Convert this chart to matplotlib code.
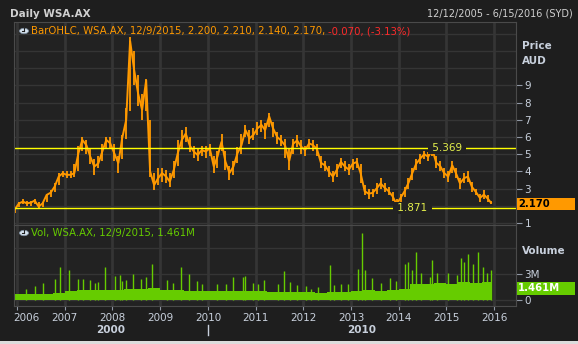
import matplotlib
matplotlib.use('Agg')
import matplotlib.pyplot as plt
import matplotlib.dates as mdates
import matplotlib.transforms as mtrans
import pandas as pd
from matplotlib.patches import Circle, Rectangle
from matplotlib.lines import Line2D

# monthly closes, Dec 2005 .. Dec 2015 (AUD)
price = [1.76,
         2.14, 2.24, 2.14, 2.18, 2.30, 1.95, 2.14, 2.63, 2.76, 3.11, 3.69, 3.89,
         3.80, 3.80, 3.90, 5.05, 5.83, 5.53, 4.86, 4.28, 4.47, 5.15, 5.83, 5.63,
         5.05, 4.47, 5.92, 6.99, 11.60, 9.90, 8.54, 7.57, 9.31, 4.00, 3.20, 3.60,
         3.90, 3.70, 3.40, 4.10, 5.05, 5.83, 6.20, 5.50, 5.15, 4.95, 5.24, 5.15,
         5.34, 4.28, 4.86, 5.73, 4.57, 3.90, 4.28, 5.05, 5.53, 6.41, 5.92, 6.12,
         6.50, 6.70, 6.40, 7.20, 6.50, 6.00, 5.80, 5.50, 4.60, 5.60, 5.80, 5.45,
         5.24, 5.63, 5.53, 5.30, 4.50, 4.35, 3.98, 3.70, 4.10, 4.55, 4.28, 4.10,
         4.45, 4.55, 3.90, 2.85, 2.70, 2.75, 3.00, 3.30, 3.05, 2.85, 2.55, 2.10,
         2.45, 2.85, 3.30, 3.90, 4.45, 4.75, 5.00, 4.85, 5.30, 4.50, 4.30, 3.90,
         3.70, 4.35, 3.90, 3.30, 3.60, 3.70, 3.10, 2.80, 2.45, 2.65, 2.40, 2.17]

# monthly high / low
price_hi = [1.90,
            2.20, 2.40, 2.30, 2.30, 2.40, 2.20, 2.20, 2.70, 2.90, 3.30, 3.90, 4.00,
            4.00, 4.00, 4.40, 5.50, 6.00, 5.80, 5.30, 4.70, 4.90, 5.60, 6.00, 6.00,
            5.60, 4.90, 6.10, 7.70, 11.80, 11.00, 9.60, 8.50, 9.40, 7.00, 3.90, 4.20,
            4.20, 4.10, 3.90, 4.60, 5.80, 6.40, 6.60, 6.00, 5.50, 5.30, 5.50, 5.50,
            5.60, 4.90, 5.20, 6.20, 5.20, 4.30, 4.60, 5.40, 6.20, 6.70, 6.40, 6.50,
            6.90, 7.00, 6.80, 7.40, 6.90, 6.30, 6.10, 5.90, 5.30, 5.90, 6.10, 5.80,
            5.50, 5.90, 5.80, 5.60, 4.90, 4.60, 4.30, 4.00, 4.40, 4.80, 4.60, 4.40,
            4.70, 4.80, 4.40, 3.20, 3.00, 3.00, 3.30, 3.60, 3.30, 3.10, 2.80, 2.40,
            2.70, 3.10, 3.60, 4.20, 4.70, 5.00, 5.20, 5.10, 5.37, 4.90, 4.60, 4.20,
            4.00, 4.60, 4.20, 3.60, 3.90, 4.00, 3.40, 3.00, 2.70, 2.90, 2.60, 2.30]
price_lo = [1.60,
            1.90, 2.10, 2.00, 2.00, 2.10, 1.80, 1.90, 2.20, 2.50, 2.80, 3.20, 3.70,
            3.60, 3.60, 3.70, 4.00, 5.20, 5.00, 4.40, 3.80, 4.20, 4.60, 5.30, 5.30,
            4.60, 3.90, 4.70, 5.90, 7.50, 9.00, 7.80, 7.00, 7.50, 3.70, 2.90, 3.20,
            3.40, 3.30, 3.10, 3.60, 4.30, 5.30, 5.70, 5.10, 4.80, 4.60, 4.90, 4.80,
            4.90, 3.90, 4.20, 5.20, 4.10, 3.50, 3.80, 4.50, 5.00, 6.00, 5.60, 5.80,
            6.10, 6.30, 5.90, 6.60, 6.00, 5.60, 5.50, 4.80, 4.10, 5.00, 5.40, 5.00,
            4.90, 5.30, 5.20, 4.90, 4.20, 4.00, 3.70, 3.40, 3.70, 4.20, 4.00, 3.80,
            4.10, 4.20, 3.30, 2.60, 2.40, 2.50, 2.70, 3.00, 2.80, 2.60, 2.30, 1.87,
            2.20, 2.50, 3.00, 3.50, 4.10, 4.40, 4.70, 4.60, 4.90, 4.20, 4.00, 3.60,
            3.40, 3.90, 3.60, 3.00, 3.30, 3.40, 2.80, 2.60, 2.20, 2.40, 2.20, 2.10]

# quarterly typical daily volume (millions), Q1 2006 .. Q4 2015
vol_base = [0.70, 0.70, 0.70, 0.80,
            1.00, 1.10, 1.10, 1.10,
            1.20, 1.30, 1.30, 1.40,
            1.20, 1.10, 1.00, 1.00,
            1.00, 1.00, 1.00, 1.00,
            1.00, 0.90, 0.90, 0.90,
            0.90, 0.80, 0.90, 0.90,
            1.00, 1.20, 1.00, 1.10,
            1.30, 1.80, 1.90, 2.00,
            1.90, 2.10, 2.00, 2.10]

# volume spikes (millions)
spike_dates = ['2006-03-10', '2006-05-20', '2006-07-15', '2006-10-20', '2006-11-25',
               '2007-02-01', '2007-04-10', '2007-05-20', '2007-07-15', '2007-08-20',
               '2007-09-10', '2007-11-05', '2008-01-20', '2008-02-25', '2008-03-15',
               '2008-04-15', '2008-06-05', '2008-08-10', '2008-09-15', '2008-10-30',
               '2009-02-20', '2009-04-10', '2009-06-05', '2009-08-10', '2009-10-10',
               '2009-11-15', '2010-03-15', '2010-05-20', '2010-07-10', '2010-09-25',
               '2010-10-15', '2010-12-10', '2011-01-20', '2011-03-10', '2011-06-25',
               '2011-08-10', '2011-09-25', '2011-11-15', '2012-01-20', '2012-03-01',
               '2012-04-20', '2012-07-20', '2012-08-25', '2012-10-15', '2012-12-10',
               '2013-02-20', '2013-03-25', '2013-04-20', '2013-06-10', '2013-08-15',
               '2013-10-25', '2013-12-10', '2014-02-20', '2014-03-10', '2014-04-10',
               '2014-05-10', '2014-06-20', '2014-08-25', '2014-09-15', '2014-10-22',
               '2015-01-10', '2015-03-20', '2015-04-25', '2015-05-15', '2015-06-15',
               '2015-07-25', '2015-09-01', '2015-10-10', '2015-11-05', '2015-12-05']
spike_vals = [1.3, 1.6, 2.0, 2.4, 3.8,
              3.5, 2.4, 2.4, 2.3, 2.0,
              2.1, 3.8, 2.8, 2.9, 2.2,
              2.3, 3.0, 2.4, 2.6, 4.2,
              2.3, 2.0, 3.8, 3.0, 2.2,
              1.9, 1.9, 1.8, 2.7, 2.6,
              2.8, 2.0, 1.9, 2.3, 1.9,
              3.3, 2.1, 1.7, 1.6, 1.3,
              1.5, 4.0, 1.7, 1.9, 1.8,
              3.6, 7.7, 3.5, 2.5, 2.0,
              2.5, 2.2, 4.2, 4.4, 3.5,
              5.5, 3.1, 2.7, 4.6, 3.1,
              3.1, 2.9, 4.8, 4.4, 5.3,
              4.2, 5.5, 3.8, 3.1, 3.5]

hi_price, lo_price = 5.369, 1.871
last_price, last_vol = 2.170, 1.461
years = list(range(2006, 2017))

BG = '#1e1e1e'
PANEL = '#222222'
GRID = '#353535'
TXT = '#c8d0dc'
ORANGE = '#ff9900'
GREEN = '#66cc00'
YEL = '#ffff00'

W, H = 578, 344
def fx(px): return px / W
def fy(py): return 1 - py / H

price_dates = pd.date_range('2005-12-01', '2015-12-01', freq='MS') + pd.Timedelta(days=14)
price_dates = price_dates.tolist()
price_dates[0] = pd.Timestamp('2005-12-12')
price_dates[-1] = pd.Timestamp('2015-12-09')

vb_dates = [pd.Timestamp('2005-12-12')] + pd.date_range('2006-04-01', periods=39, freq='QS').tolist() + [pd.Timestamp('2015-12-09')]
vb_vals = vol_base + [vol_base[-1]]

fig = plt.figure(figsize=(5.78, 3.44), dpi=100, facecolor=BG)
ax = fig.add_axes([fx(14), fy(225), fx(516) - fx(14), fy(22) - fy(225)], facecolor=PANEL)
axv = fig.add_axes([fx(14), fy(306), fx(516) - fx(14), fy(225) - fy(306)], facecolor=PANEL, sharex=ax)

year_ticks = [pd.Timestamp(f'{y}-01-01') for y in years]
for a in (ax, axv):
    a.set_axisbelow(True)
    for s in a.spines.values():
        s.set_color('#4a4a4a')
    a.yaxis.tick_right()
    a.set_xticks(year_ticks)
    a.grid(axis='x', color=GRID, lw=2)
    a.grid(axis='y', which='both', color=GRID, lw=1)
    a.tick_params(axis='y', which='major', colors='#9098a4', labelcolor=TXT,
                  labelsize=7.5, length=4, pad=2)
    a.tick_params(axis='y', which='minor', length=0)

ax.set_xlim(pd.Timestamp('2005-12-08'), pd.Timestamp('2016-06-17'))

# price panel: monthly ranges plus closes
ax.vlines(price_dates, price_lo, price_hi, color=ORANGE, lw=1.3)
ax.plot(price_dates, price, color=ORANGE, lw=1.4, solid_joinstyle='miter')
ax.axhline(hi_price, color=YEL, lw=1)
ax.axhline(lo_price, color=YEL, lw=1)
lbl = dict(color='#e4f04c', fontsize=7.5, ha='center', va='center',
           bbox=dict(boxstyle='square,pad=0.1', fc=PANEL, ec='none'))
ax.text(pd.Timestamp('2015-01-05'), hi_price, f' {hi_price:.3f} ', **lbl)
ax.text(pd.Timestamp('2014-04-15'), lo_price, f' {lo_price:.3f} ', **lbl)
ax.set_ylim(0.88, 12.69)
ax.set_yticks(range(1, 10))
ax.set_yticklabels(['1', ''] + [str(v) for v in range(3, 10)])
ax.set_yticks([10, 11, 12], minor=True)
ax.tick_params(axis='x', length=0, labelbottom=False)

# volume panel
axv.fill_between(vb_dates, 0, vb_vals, step='post', color=GREEN, lw=0)
axv.vlines(pd.to_datetime(spike_dates), 0, spike_vals, color=GREEN, lw=1)
axv.set_ylim(-0.69, 8.65)
axv.set_yticks([0, 3])
axv.set_yticklabels(['0', '3M'])
axv.set_yticks([6], minor=True)
axv.tick_params(axis='x', colors='#9098a4', labelcolor=TXT, labelsize=7.5,
                length=3, pad=2)
axv.xaxis.set_major_formatter(mdates.DateFormatter('%Y'))
first = axv.get_xticklabels()[0]
first.set_ha('left')
first.set_transform(first.get_transform() + mtrans.ScaledTranslation(-4 / 100, 0, fig.dpi_scale_trans))

# header
fig.text(fx(10), fy(14), 'Daily WSA.AX', color='#d0d0d0', fontsize=7.5,
         fontweight='bold', va='center')
fig.text(fx(573), fy(14), '12/12/2005 - 6/15/2016 (SYD)', color='#d0d0d0',
         fontsize=7, va='center', ha='right')

# legends with clock icons
for cy in (31, 233):
    fig.add_artist(Circle((fx(24), fy(cy)), 4.5 / W, transform=fig.transFigure,
                          fc='#d8e4f0', ec='#8090a0', lw=0.6))
    fig.add_artist(Line2D([fx(24), fx(24)], [fy(cy), fy(cy - 3)], color='#202020', lw=0.8))
    fig.add_artist(Line2D([fx(24), fx(21.5)], [fy(cy), fy(cy)], color='#202020', lw=0.8))

t1 = fig.text(fx(31), fy(31), 'BarOHLC, WSA.AX, 12/9/2015, 2.200, 2.210, 2.140, 2.170, ',
              color=ORANGE, fontsize=7.3, va='center')
fig.canvas.draw()
bb = t1.get_window_extent()
fig.text(bb.x1 / fig.bbox.width, fy(31), '-0.070, (-3.13%)', color='#ff2a2a',
         fontsize=7.3, va='center')
fig.text(fx(31), fy(233), f'Vol, WSA.AX, 12/9/2015, {last_vol:.3f}M', color=GREEN,
         fontsize=7.3, va='center')

# right axis titles
fig.text(fx(522), fy(46), 'Price', color=TXT, fontsize=7.5, fontweight='bold', va='center')
fig.text(fx(522), fy(61), 'AUD', color=TXT, fontsize=7.5, fontweight='bold', va='center')
fig.text(fx(522), fy(251), 'Volume', color=TXT, fontsize=7.5, fontweight='bold', va='center')

# last value boxes
fig.add_artist(Rectangle((fx(517), fy(210)), fx(575) - fx(517), fy(197.5) - fy(210),
                         transform=fig.transFigure, fc=ORANGE, ec='none'))
fig.text(fx(518), fy(204), f'{last_price:.3f}', color='black', fontsize=7.2,
         fontweight='bold', va='center')
fig.add_artist(Rectangle((fx(517), fy(295)), fx(575) - fx(517), fy(281.5) - fy(295),
                         transform=fig.transFigure, fc=GREEN, ec='none'))
fig.text(fx(518), fy(288), f'{last_vol:.3f}M', color='white', fontsize=7.2,
         fontweight='bold', va='center')

# decade labels
fig.text(fx(111), fy(330), '2000', color=TXT, fontsize=7.5, fontweight='bold',
         ha='center', va='center')
fig.text(fx(362), fy(330), '2010', color=TXT, fontsize=7.5, fontweight='bold',
         ha='center', va='center')
fig.add_artist(Line2D([fx(208), fx(208)], [fy(325), fy(335)], color=TXT, lw=1))

# window edge at the bottom
fig.add_artist(Rectangle((0, 0), 1, 3 / H, transform=fig.transFigure,
                         fc='#dcdcdc', ec='none'))

fig.savefig('out.png', dpi=100, facecolor=BG)
